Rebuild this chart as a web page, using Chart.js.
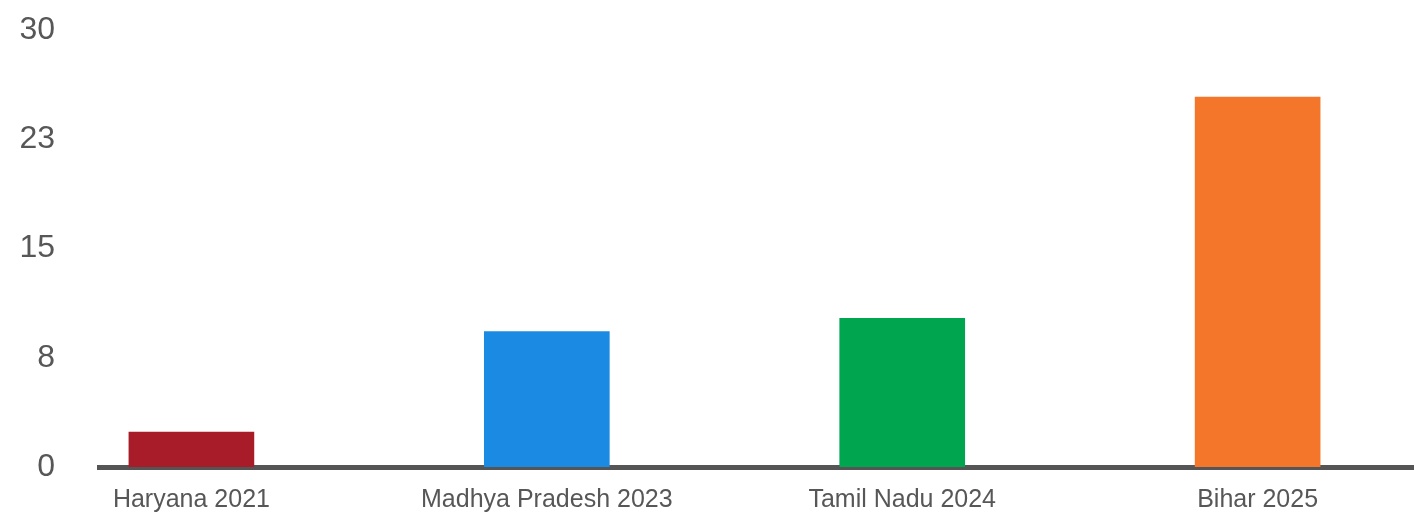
<!DOCTYPE html>
<html>
<head>
<meta charset="utf-8">
<script src="https://cdn.jsdelivr.net/npm/chart.js@4"></script>
<style>
  html, body { margin: 0; padding: 0; background: #fff; }
  #wrap { width: 1414px; height: 513px; }
</style>
</head>
<body>
<div id="wrap"><canvas id="myChart"></canvas></div>
<script>
// --- chart data ---
const categories = ['Haryana 2021', 'Madhya Pradesh 2023', 'Tamil Nadu 2024', 'Bihar 2025'];
const values = [2.4, 9.3, 10.2, 25.4];
const barColors = ['#A81C29', '#1A8AE3', '#00A550', '#F4762B'];
const yTicks = [0, 7.5, 15, 22.5, 30];

const textColor = '#575757';
const fontFamily = '"Liberation Sans", Arial, sans-serif';

// bars sit on a linear x axis, one step per category
const points = values.map((v, i) => ({ x: i, y: v }));

const ctx = document.getElementById('myChart').getContext('2d');
const myChart = new Chart(ctx, {
  type: 'bar',
  data: {
    datasets: [{
      data: points,
      backgroundColor: barColors,
      borderWidth: 0,
      barThickness: 125
    }]
  },
  options: {
    responsive: true,
    maintainAspectRatio: false,
    animation: false,
    layout: { padding: { top: 30, right: 0, left: 0, bottom: 0 } },
    plugins: {
      legend: { display: false },
      tooltip: { enabled: false }
    },
    scales: {
      x: {
        type: 'linear',
        offset: false,
        min: -0.26,
        max: 3.44,
        z: 1,
        grid: { display: false, drawTicks: false, offset: false },
        border: { display: true, color: '#555555', width: 5 },
        afterBuildTicks: (scale) => {
          scale.ticks = categories.map((c, i) => ({ value: i }));
        },
        afterFit: (scale) => {
          scale.height = 46;
          scale.paddingLeft = 0;
          scale.paddingRight = 0;
        },
        ticks: {
          autoSkip: false,
          maxRotation: 0,
          padding: 18,
          color: textColor,
          font: { family: fontFamily, size: 25 },
          callback: (value) => categories[value] || ''
        }
      },
      y: {
        min: 0,
        max: 30,
        afterFit: (scale) => {
          scale.width = 99;
          scale.paddingTop = 0;
          scale.paddingBottom = 0;
        },
        afterBuildTicks: (scale) => {
          scale.ticks = yTicks.map(v => ({ value: v }));
        },
        grid: { display: false, drawTicks: false },
        border: { display: false },
        ticks: {
          padding: 44,
          color: textColor,
          font: { family: fontFamily, size: 32 },
          callback: (value) => Math.round(value)
        }
      }
    }
  }
});
</script>
</body>
</html>
